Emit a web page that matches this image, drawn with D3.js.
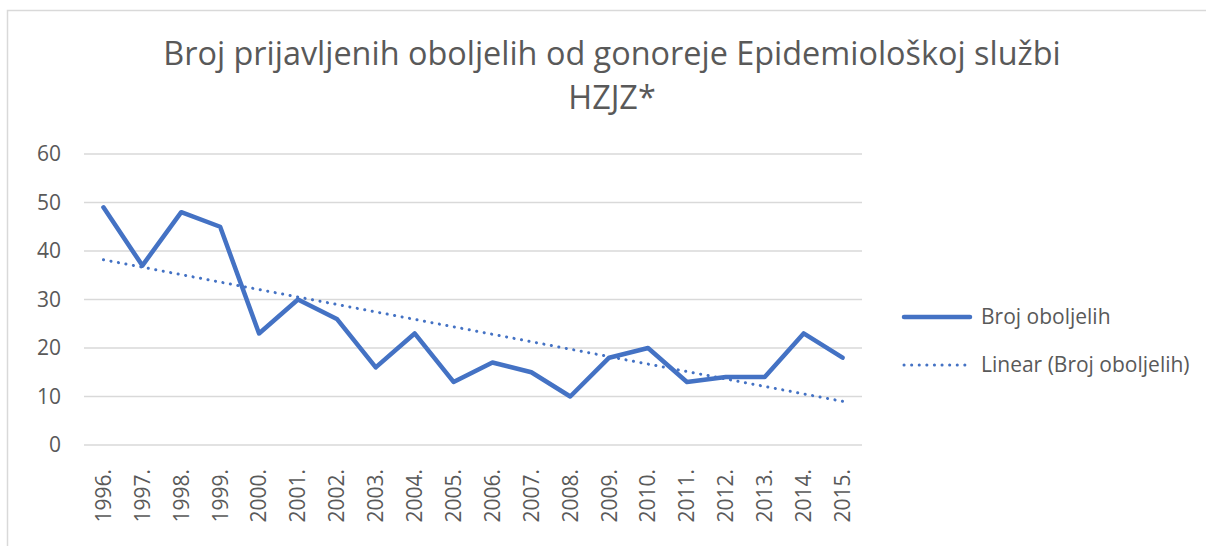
<!DOCTYPE html>
<html lang="hr">
<head>
    <meta charset="UTF-8">
    <title>Broj prijavljenih oboljelih od gonoreje</title>
    <script src="https://cdn.jsdelivr.net/npm/d3@7/dist/d3.min.js"></script>
    <style>
        body { margin: 0; background: #fff; }
        text { font-family: "Open Sans", "Noto Sans", sans-serif; fill: #595959; }
    </style>
</head>
<body>
    <script>
        // podaci
        var godine = ["1996.","1997.","1998.","1999.","2000.","2001.","2002.","2003.","2004.","2005.",
                      "2006.","2007.","2008.","2009.","2010.","2011.","2012.","2013.","2014.","2015."];
        var oboljeli = [49,37,48,45,23,30,26,16,23,13,17,15,10,18,20,13,14,14,23,18];
        // linearni trend (procitano sa slike: pocetak i kraj)
        var trend = [38.2, 9.0];
        var yTicks = [0,10,20,30,40,50,60];

        var width = 1206, height = 546;
        var svg = d3.select("body").append("svg").attr("width", width).attr("height", height);

        // okvir grafikona
        svg.append("rect")
            .attr("x", 7.5).attr("y", 10.5)
            .attr("width", 1220).attr("height", 560)
            .attr("fill", "none").attr("stroke", "#d9d9d9").attr("stroke-width", 1.5);

        // naslov
        var title = svg.append("text")
            .attr("text-anchor", "middle")
            .attr("font-size", 32.4);
        title.append("tspan").attr("x", 612).attr("y", 65).text("Broj prijavljenih oboljelih od gonoreje Epidemiološkoj službi");
        title.append("tspan").attr("x", 612).attr("y", 109).text("HZJZ*");

        var x = d3.scaleBand().domain(godine).range([84, 862]);
        var y = d3.scaleLinear().domain([0, 60]).range([445, 154]);

        // mreza
        svg.append("g")
            .selectAll("line")
            .data(yTicks)
            .enter()
            .append("line")
            .attr("x1", 84).attr("x2", 862)
            .attr("y1", function(d){ return y(d); })
            .attr("y2", function(d){ return y(d); })
            .attr("stroke", "#d9d9d9").attr("stroke-width", 1.5);

        // y os
        var yAxis = svg.append("g")
            .attr("transform", "translate(61,0)")
            .call(d3.axisLeft(y).tickValues(yTicks).tickSize(0).tickPadding(0));
        yAxis.select(".domain").remove();
        yAxis.selectAll("text")
            .attr("font-size", 21)
            .style("font-family", "'Open Sans', sans-serif")
            .attr("fill", "#595959");

        // x os
        var xAxis = svg.append("g")
            .attr("transform", "translate(0,469)")
            .call(d3.axisBottom(x).tickSize(0).tickPadding(0));
        xAxis.select(".domain").remove();
        xAxis.selectAll("text")
            .attr("font-size", 21)
            .style("font-family", "'Open Sans', sans-serif")
            .attr("fill", "#595959")
            .attr("text-anchor", "end")
            .attr("dy", "0.35em")
            .attr("transform", "rotate(-90)")
            .attr("x", 0).attr("y", 0);

        var cx = function(d){ return x(d) + x.bandwidth() / 2; };

        // trend
        svg.append("line")
            .attr("x1", cx(godine[0])).attr("y1", y(trend[0]))
            .attr("x2", cx(godine[godine.length - 1])).attr("y2", y(trend[1]))
            .attr("stroke", "#4472c4").attr("stroke-width", 3)
            .attr("stroke-linecap", "round")
            .attr("stroke-dasharray", "0.1 7.5");

        // serija
        var line = d3.line()
            .x(function(d, i){ return cx(godine[i]); })
            .y(function(d){ return y(d); });
        svg.append("path")
            .datum(oboljeli)
            .attr("d", line)
            .attr("fill", "none")
            .attr("stroke", "#4472c4")
            .attr("stroke-width", 4.5)
            .attr("stroke-linejoin", "round")
            .attr("stroke-linecap", "round");

        // legenda
        var leg = svg.append("g");
        leg.append("line")
            .attr("x1", 904).attr("x2", 970).attr("y1", 317).attr("y2", 317)
            .attr("stroke", "#4472c4").attr("stroke-width", 4.5).attr("stroke-linecap", "round");
        leg.append("text").attr("x", 981).attr("y", 324).attr("font-size", 21).text("Broj oboljelih");
        leg.append("line")
            .attr("x1", 904).attr("x2", 968).attr("y1", 365).attr("y2", 365)
            .attr("stroke", "#4472c4").attr("stroke-width", 3).attr("stroke-linecap", "round")
            .attr("stroke-dasharray", "0.1 7.5");
        leg.append("text").attr("x", 981).attr("y", 372).attr("font-size", 21).text("Linear (Broj oboljelih)");
    </script>
</body>
</html>
